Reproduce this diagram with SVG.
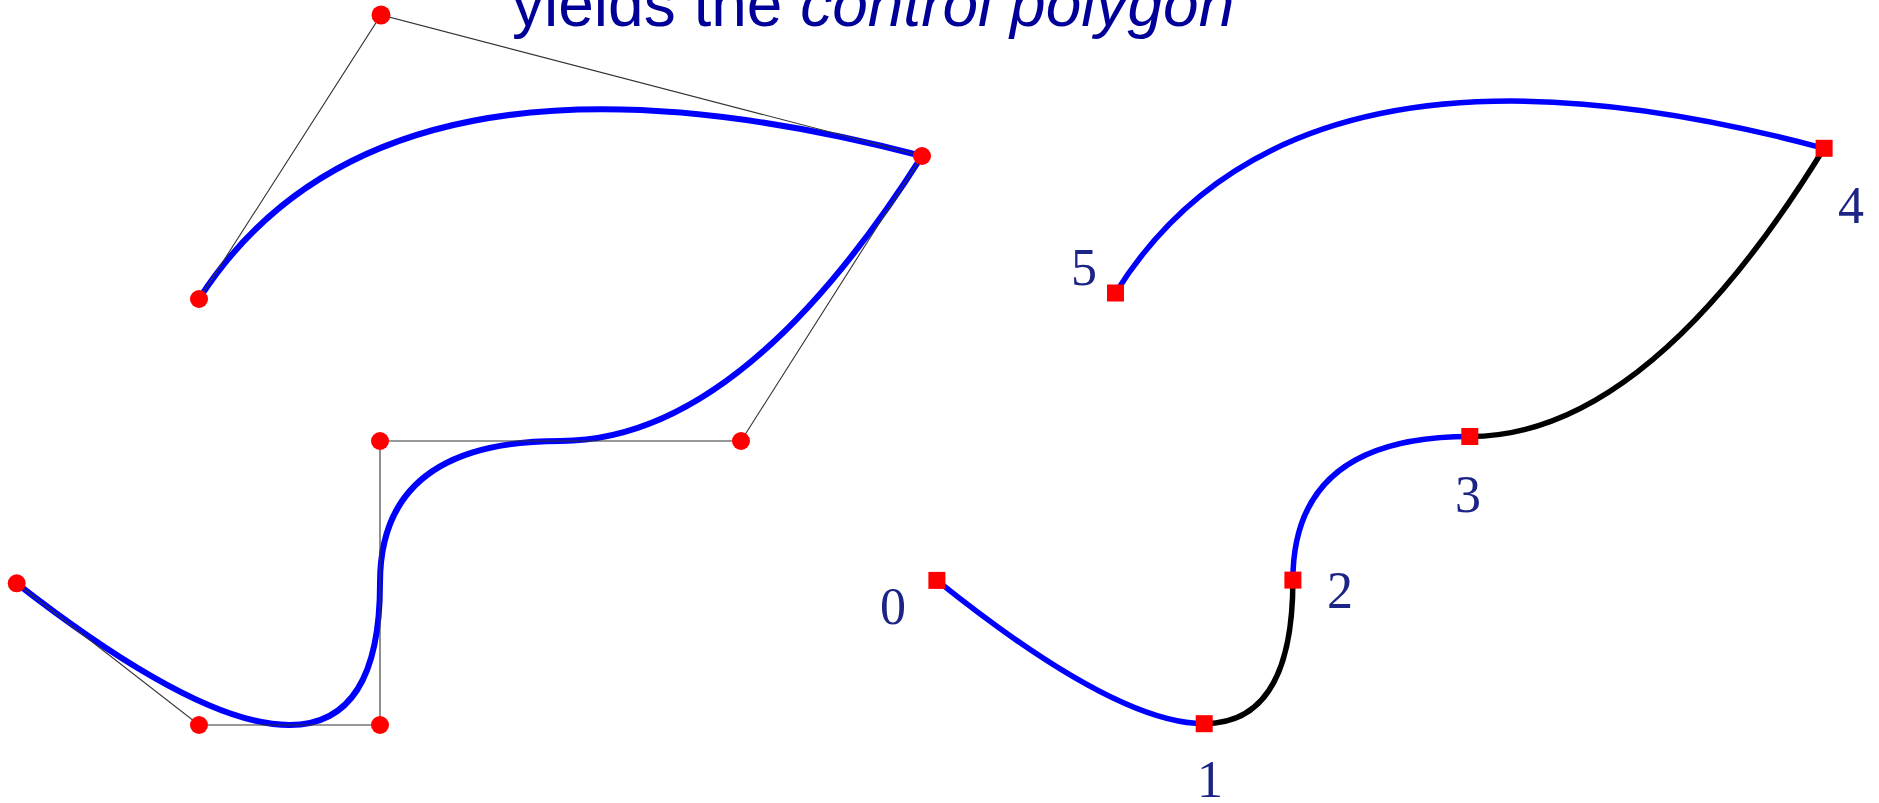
<svg xmlns="http://www.w3.org/2000/svg" width="1879" height="803" viewBox="0 0 1879 803">
<style>
.title{font-family:"Liberation Sans",Arial,sans-serif;font-size:64px;fill:#000099}
.lbl{font-family:"Liberation Serif","Times New Roman",serif;font-size:52px;fill:#1c2485;text-anchor:middle}
.curve{fill:none;stroke:#0000ff;stroke-width:6;stroke-linecap:butt}
.seg-b{fill:none;stroke:#0000ff;stroke-width:5.5}
.seg-k{fill:none;stroke:#000000;stroke-width:5.5}
.poly{fill:none;stroke:#333333;stroke-width:1.1}
.dot{fill:#ff0000}
.sq{fill:#ff0000}
</style>
<rect width="1879" height="803" fill="#ffffff"/>
<text class="title" x="512" y="26">yields the <tspan font-style="italic">control polygon</tspan></text>

<g id="left-curve">
<path class="curve" d="M16.7,583.3 Q199,725 289.5,725 Q380,725 380,583 Q380,441 560.5,441 Q741,441 922,156 Q381,15 199,299"/>
</g>
<g id="connectors">
<polyline class="poly" points="16.7,583.3 199,725 380,725 380,441 741,441 922,156 381,15 199,299"/>
</g>
<g id="control-points">
<circle id="P0" class="dot" cx="16.7" cy="583.3" r="9"/>
<circle id="P1" class="dot" cx="199" cy="725" r="9"/>
<circle id="P2" class="dot" cx="380" cy="725" r="9"/>
<circle id="P3" class="dot" cx="380" cy="441" r="9"/>
<circle id="P4" class="dot" cx="741" cy="441" r="9"/>
<circle id="P5" class="dot" cx="922" cy="156" r="9"/>
<circle id="P6" class="dot" cx="381" cy="15" r="9.5"/>
<circle id="P7" class="dot" cx="199" cy="299" r="9"/>
</g>

<g id="right-curve">
<path class="seg-b" d="M936.9,580.4 Q1115.5,723.7 1204.2,723.7"/>
<path class="seg-k" d="M1204.2,723.7 Q1292.9,723.7 1292.9,580.1"/>
<path class="seg-b" d="M1292.9,580.1 Q1292.9,436.5 1469.8,436.5"/>
<path class="seg-k" d="M1469.8,436.5 Q1646.7,436.5 1824.1,148.3"/>
<path class="seg-b" d="M1824.1,148.3 Q1293.9,5.8 1115.5,293"/>
</g>
<g id="knot-0"><rect class="sq" x="928.4" y="571.9" width="17" height="17"/><text class="lbl" x="893" y="624">0</text></g>
<g id="knot-1"><rect class="sq" x="1195.7" y="715.2" width="17" height="17"/><text class="lbl" x="1210" y="797">1</text></g>
<g id="knot-2"><rect class="sq" x="1284.4" y="571.6" width="17" height="17"/><text class="lbl" x="1340" y="608">2</text></g>
<g id="knot-3"><rect class="sq" x="1461.3" y="428" width="17" height="17"/><text class="lbl" x="1468" y="512">3</text></g>
<g id="knot-4"><rect class="sq" x="1815.6" y="139.8" width="17" height="17"/><text class="lbl" x="1851" y="223">4</text></g>
<g id="knot-5"><rect class="sq" x="1107" y="284.5" width="17" height="17"/><text class="lbl" x="1084" y="285">5</text></g>
</svg>
